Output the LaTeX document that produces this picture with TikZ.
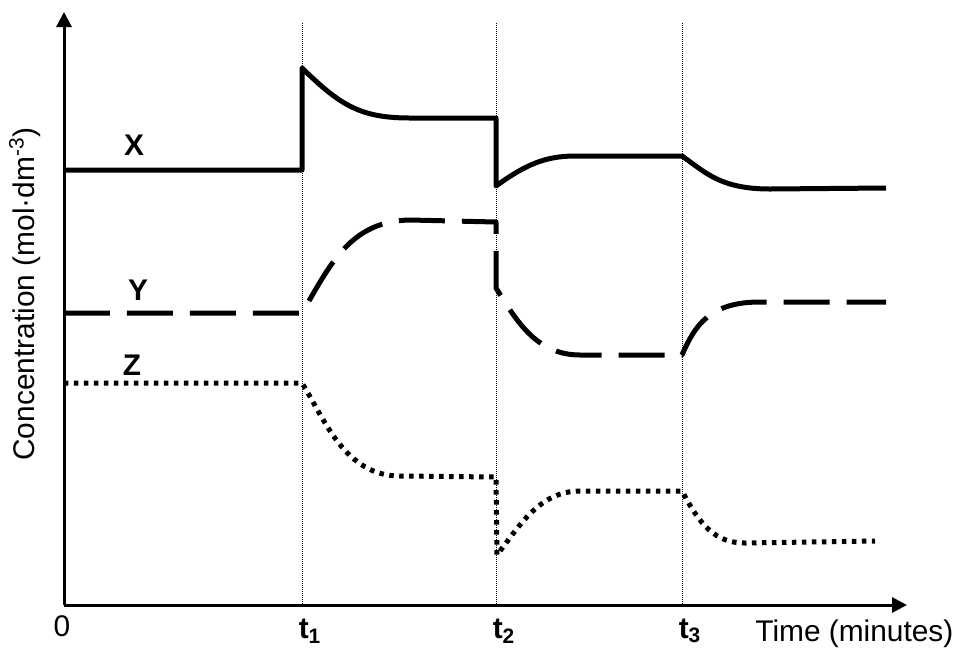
\documentclass[tikz,border=0pt]{standalone}
\usepackage{fontspec}
\setmainfont{Liberation Sans}
\usetikzlibrary{arrows.meta}

\begin{document}
\begin{tikzpicture}[x=0.02cm,y=-0.02cm,
    axis/.style={line width=0.06cm,-{Triangle[length=0.3cm,width=0.3cm]}},
    guide/.style={line width=0.02cm,dash pattern=on 0.02cm off 0.02cm},
    curve/.style={line width=0.1cm,line join=round},
    curvey/.style={curve,dash pattern=on 0.92cm off 0.34cm},
    curvez/.style={curve,dash pattern=on 0.09cm off 0.11cm},
    tag/.style={font=\fontsize{17}{19}\selectfont\bfseries},
    title/.style={font=\fontsize{17}{19}\selectfont}]
    \useasboundingbox (0,0) rectangle (957,647);

    % Achsen
    \coordinate (orig) at (64,605);
    \coordinate (ytop) at (64,12);
    \coordinate (xend) at (907,605);
    \draw[axis] (orig) -- (ytop);
    \draw[axis] (orig) -- (xend);

    % Zeitpunkte
    \draw[guide] (302,23) -- (302,605);
    \draw[guide] (496,23) -- (496,605);
    \draw[guide] (682,23) -- (682,605);

    % Stoff X
    \draw[curve] (64,170) -- (302,170) -- (302,68)
        .. controls (340,105) and (360,118) .. (410,118) -- (496,118)
        -- (496,186) .. controls (525,165) and (545,156) .. (575,156)
        -- (682,156) .. controls (705,172) and (720,189) .. (770,189)
        -- (886,188);

    % Stoff Y
    \draw[curvey] (64,313) -- (302,313)
        .. controls (330,265) and (350,221) .. (410,220) -- (496,222)
        -- (496,288) .. controls (515,318) and (535,355) .. (580,355)
        -- (682,355) .. controls (695,325) and (710,302) .. (760,302)
        -- (886,302);

    % Stoff Z
    \draw[curvez] (64,383) -- (302,383)
        .. controls (325,420) and (345,476) .. (400,476) -- (496,477)
        -- (497,555) .. controls (520,525) and (540,491) .. (580,491)
        -- (682,491) .. controls (700,525) and (715,543) .. (745,543)
        -- (875,541);

    % Beschriftung
    \node[tag] (labx) at (134,145) {X};
    \node[tag] (laby) at (138,290) {Y};
    \node[tag] (labz) at (132,365) {Z};
    \node[title] (zero) at (62,626) {0};
    \node[tag] (t1) at (310,631) {t\textsubscript{1}};
    \node[tag] (t2) at (504,631) {t\textsubscript{2}};
    \node[tag] (t3) at (690,631) {t\textsubscript{3}};
    \node[title,anchor=base west,inner sep=0pt] (time) at (755,641) {Time (minutes)};
    \node[title,rotate=90] (conc) at (25,294) {Concentration (mol·dm\textsuperscript{-3})};
\end{tikzpicture}
\end{document}
